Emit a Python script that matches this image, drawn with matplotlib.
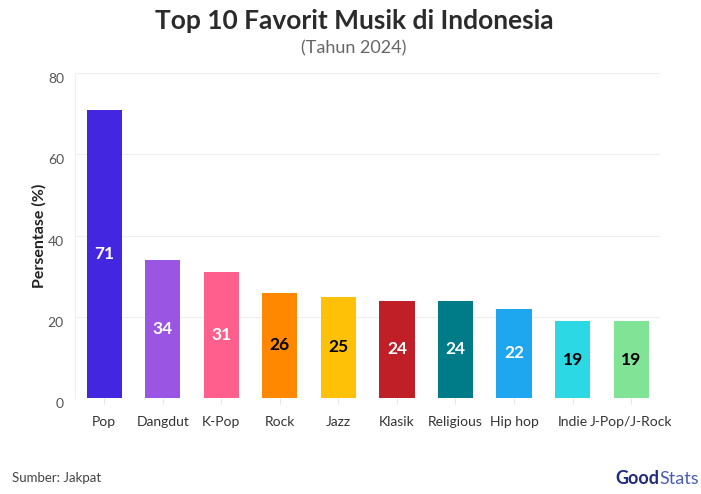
import matplotlib as mpl
import matplotlib.pyplot as plt
import numpy as np

mpl.rcParams["font.family"] = ["Lato", "DejaVu Sans"]

# Data
genres = ["Pop", "Dangdut", "K-Pop", "Rock", "Jazz", "Klasik",
          "Religious", "Hip hop", "Indie", "J-Pop/J-Rock"]
values = [71, 34, 31, 26, 25, 24, 24, 22, 19, 19]
colors = ["#4326e0", "#9a55e2", "#ff5f8c", "#ff8800", "#ffc107", "#c01f27",
          "#007b88", "#1ea7ee", "#2cd8e3", "#80e395"]
label_colors = ["white", "white", "white", "black", "black", "white",
                "white", "white", "black", "black"]

fig = plt.figure(figsize=(7.01, 4.94), dpi=100)
ax = fig.add_axes([0.107, 0.194, 0.835, 0.658])

x = np.arange(len(genres))
ax.bar(x, values, width=0.6, color=colors, zorder=3)

# Value labels in the middle of each bar
for xi, v, lc in zip(x, values, label_colors):
    ax.text(xi, v / 2, str(v), ha="center", va="center",
            fontsize=12.5, fontweight="bold", color=lc, zorder=4)

ax.set_ylim(0, 80)
ax.set_xlim(-0.5, len(genres) - 0.5)
ax.set_yticks([0, 20, 40, 60, 80])
ax.set_xticks(x)
ax.set_xticklabels(genres)
ax.grid(axis="y", color="#eeeeee", linewidth=0.8, zorder=0)

for s in ["top", "right", "bottom"]:
    ax.spines[s].set_visible(False)
ax.spines["left"].set_color("#eeeeee")

ax.tick_params(axis="y", length=0, labelsize=10, labelcolor="#555555", pad=8)
ax.tick_params(axis="x", length=4, color="#e6e6e6", labelsize=10,
               labelcolor="#333333", pad=9)
for lbl in ax.get_yticklabels():
    lbl.set_verticalalignment("top")

ax.set_ylabel("Persentase (%)", fontsize=11.5, fontweight="bold",
              color="#222222")
ax.yaxis.set_label_coords(-0.048, 0.5)

# Titles
fig.text(0.505, 0.958, "Top 10 Favorit Musik di Indonesia", ha="center",
         va="center", fontsize=19, fontweight="bold", color="#2b2b2b")
fig.text(0.505, 0.903, "(Tahun 2024)", ha="center", va="center",
         fontsize=13, color="#666666")

# Footer
fig.text(0.017, 0.032, "Sumber: Jakpat", ha="left", va="center",
         fontsize=9.5, color="#444444")
good = fig.text(0.878, 0.014, "Good", ha="left", va="bottom", fontsize=13,
                fontweight="bold", color="#1f2a80")
fig.canvas.draw()
bb = good.get_window_extent(renderer=fig.canvas.get_renderer())
fig.text(bb.x1 / fig.bbox.width, 0.014, "Stats", ha="left", va="bottom",
         fontsize=13, color="#4a5cb0")

plt.savefig("out.png", dpi=100)
plt.close()
